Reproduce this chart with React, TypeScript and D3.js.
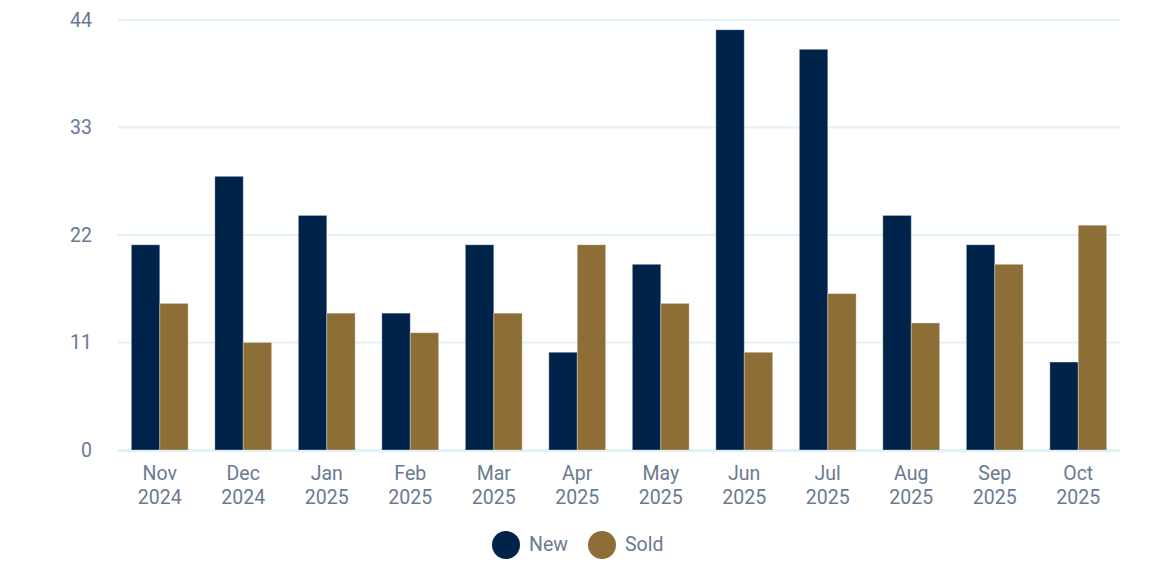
import React from "react";
import * as d3 from "d3";

const months = ["Nov", "Dec", "Jan", "Feb", "Mar", "Apr", "May", "Jun", "Jul", "Aug", "Sep", "Oct"];
const years = ["2024", "2024", "2025", "2025", "2025", "2025", "2025", "2025", "2025", "2025", "2025", "2025"];
const newValues = [21, 28, 24, 14, 21, 10, 19, 43, 41, 24, 21, 9];
const soldValues = [15, 11, 14, 12, 14, 21, 15, 10, 16, 13, 19, 23];
const yTicks = [0, 11, 22, 33, 44];
const seriesNames = ["New", "Sold"];
const seriesColors = ["#00234a", "#8d6e37"];

const W = 1160;
const H = 580;
const left = 118;
const right = 1120;
const top = 20;
const bottom = 450;
const font = "Roboto, 'Noto Sans', sans-serif";
const textColor = "#6b7a90";
const gridColor = "#e1f2f6";
const fs = 19.5;

export default function App() {
  const keys = months.map((m, i) => m + " " + years[i]);
  const x0 = d3.scaleBand<string>().domain(keys).range([left, right]).paddingInner(0.32).paddingOuter(0.16);
  const x1 = d3.scaleBand<string>().domain(seriesNames).range([0, x0.bandwidth()]).padding(0);
  const y = d3.scaleLinear().domain([0, 44]).range([bottom, top]);
  const data = [newValues, soldValues];

  return (
    <svg width={W} height={H} style={{ position: "absolute", left: 0, top: 0, background: "#fff" }} fontFamily={font}>
      {yTicks.map((t) => (
        <g key={t}>
          <line x1={left} x2={right} y1={y(t)} y2={y(t)} stroke={gridColor} strokeWidth={2} />
          <text x={92} y={y(t)} dy="0.35em" textAnchor="end" fontSize={fs} fill={textColor}>
            {t}
          </text>
        </g>
      ))}
      {keys.map((k, i) => (
        <g key={k}>
          {seriesNames.map((s, j) => {
            const v = data[j][i];
            return (
              <rect
                key={s}
                x={(x0(k) as number) + (x1(s) as number)}
                y={y(v)}
                width={x1.bandwidth()}
                height={y(0) - y(v)}
                fill={seriesColors[j]}
                stroke="rgba(255,255,255,0.3)"
                strokeWidth={1}
              />
            );
          })}
          <text x={(x0(k) as number) + x0.bandwidth() / 2} y={480} textAnchor="middle" fontSize={fs} fill={textColor}>
            {months[i]}
          </text>
          <text x={(x0(k) as number) + x0.bandwidth() / 2} y={504} textAnchor="middle" fontSize={fs} fill={textColor}>
            {years[i]}
          </text>
        </g>
      ))}
      <line x1={left} x2={right} y1={bottom + 1} y2={bottom + 1} stroke={gridColor} strokeWidth={2} />
      {seriesNames.map((s, j) => {
        const cx = j === 0 ? 506 : 602;
        return (
          <g key={s}>
            <circle cx={cx} cy={545} r={14} fill={seriesColors[j]} />
            <text x={cx + 23} y={544} dy="0.35em" fontSize={fs} fill={textColor}>
              {s}
            </text>
          </g>
        );
      })}
    </svg>
  );
}
